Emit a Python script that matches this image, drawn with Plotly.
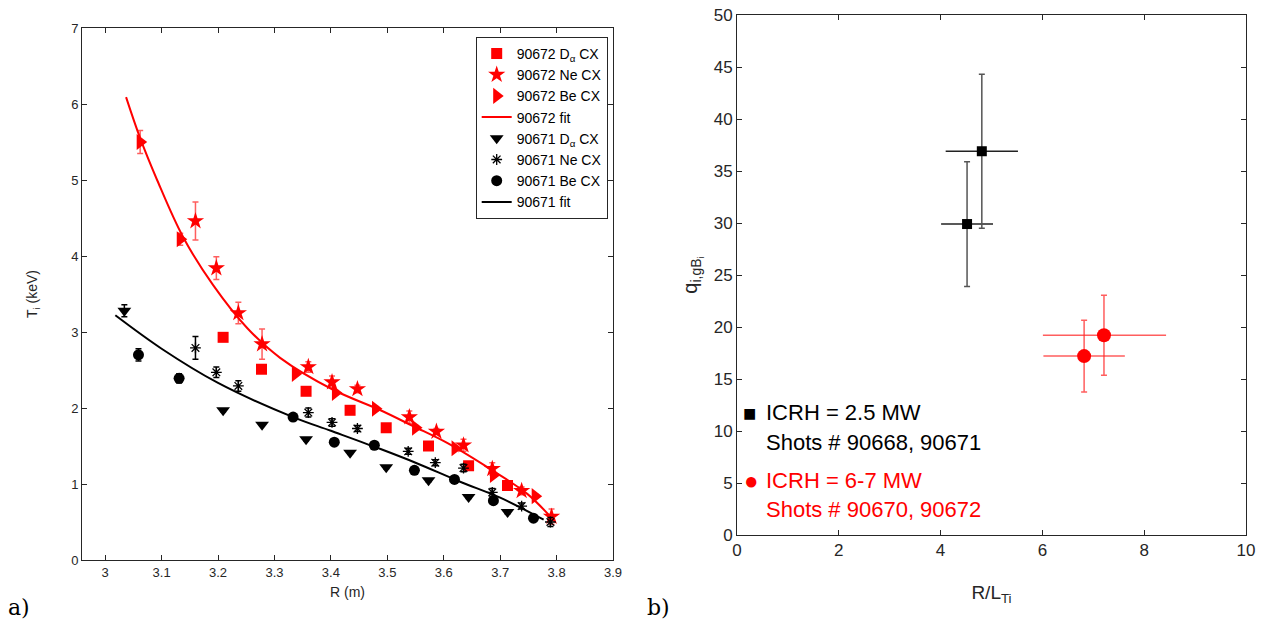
import plotly.graph_objects as go

# ---------------- Left panel data: Ti profiles ----------------
r672_da = [3.209, 3.277, 3.356, 3.434, 3.498, 3.573, 3.644, 3.713]
t672_da = [2.93, 2.51, 2.22, 1.97, 1.74, 1.50, 1.24, 0.98]
e672_da = [0.03, 0.03, 0.03, 0.03, 0.03, 0.03, 0.03, 0.03]

r672_ne = [3.160, 3.197, 3.236, 3.278, 3.360, 3.402, 3.447, 3.539, 3.587, 3.635, 3.686, 3.738, 3.791]
t672_ne = [4.46, 3.84, 3.25, 2.84, 2.54, 2.34, 2.25, 1.88, 1.69, 1.51, 1.20, 0.91, 0.57]
e672_ne = [0.25, 0.15, 0.14, 0.20, 0.07, 0.08, 0.05, 0.08, 0.04, 0.08, 0.08, 0.05, 0.10]

r672_be = [3.062, 3.133, 3.337, 3.408, 3.479, 3.550, 3.620, 3.688, 3.762]
t672_be = [5.50, 4.22, 2.45, 2.20, 1.99, 1.74, 1.47, 1.12, 0.84]
e672_be = [0.15, 0.08, 0.03, 0.03, 0.03, 0.03, 0.03, 0.03, 0.03]

r672_fit = [3.037, 3.062, 3.092, 3.138, 3.191, 3.252, 3.310, 3.404, 3.488, 3.546, 3.606,
            3.688, 3.748, 3.789]
t672_fit = [6.09, 5.55, 5.00, 4.25, 3.62, 3.05, 2.66, 2.24, 1.97, 1.76, 1.54,
            1.17, 0.87, 0.57]

r671_da = [3.034, 3.209, 3.278, 3.356, 3.434, 3.498, 3.573, 3.644, 3.713]
t671_da = [3.28, 1.97, 1.78, 1.59, 1.41, 1.22, 1.05, 0.83, 0.63]
e671_da = [0.08, 0.02, 0.02, 0.02, 0.02, 0.02, 0.02, 0.02, 0.02]

r671_ne = [3.160, 3.197, 3.236, 3.360, 3.402, 3.447, 3.537, 3.585, 3.635, 3.686, 3.738, 3.789]
t671_ne = [2.79, 2.47, 2.29, 1.94, 1.81, 1.73, 1.43, 1.28, 1.21, 0.89, 0.71, 0.50]
e671_ne = [0.15, 0.07, 0.07, 0.06, 0.05, 0.04, 0.04, 0.04, 0.05, 0.05, 0.04, 0.06]

r671_be = [3.059, 3.131, 3.333, 3.406, 3.477, 3.548, 3.619, 3.688, 3.759]
t671_be = [2.70, 2.39, 1.88, 1.55, 1.51, 1.18, 1.06, 0.78, 0.55]
e671_be = [0.08, 0.06, 0.03, 0.03, 0.03, 0.03, 0.03, 0.03, 0.03]

r671_fit = [3.018, 3.10, 3.20, 3.333, 3.40, 3.488, 3.55, 3.629, 3.70, 3.777]
t671_fit = [3.22, 2.78, 2.33, 1.88, 1.70, 1.46, 1.28, 1.03, 0.82, 0.53]

# ---------------- Right panel data: heat flux vs R/LTi ----------------
rlt_low = [4.52, 4.81]
rlt_low_err = [0.51, 0.71]
q_low = [29.9, 36.9]
q_low_err = [6.0, 7.4]

rlt_high = [6.82, 7.21]
rlt_high_err_plus = [0.80, 1.22]
rlt_high_err_minus = [0.80, 1.20]
q_high = [17.2, 19.2]
q_high_err = [3.45, 3.85]

RED = "#ff0000"
RED_ERR = "rgba(255,40,40,0.75)"
BLK = "#000000"
FONT = "Liberation Sans, Arial, sans-serif"

fig = go.Figure()

def pts(x, y, e, name, color, ecolor, symbol, size, lw=0):
    return go.Scatter(
        x=x, y=y, mode="markers", name=name,
        marker=dict(symbol=symbol, size=size, color=color,
                    line=dict(color=color, width=lw)),
        error_y=dict(type="data", array=e, visible=True, color=ecolor,
                     thickness=1.5, width=3),
        xaxis="x", yaxis="y",
    )

fig.add_trace(pts(r672_da, t672_da, e672_da, "90672 D<sub>α</sub> CX", RED, RED_ERR, "square", 11))
fig.add_trace(pts(r672_ne, t672_ne, e672_ne, "90672 Ne CX", RED, RED_ERR, "star", 13))
fig.add_trace(pts(r672_be, t672_be, e672_be, "90672 Be CX", RED, RED_ERR, "triangle-right", 14))
fig.add_trace(go.Scatter(x=r672_fit, y=t672_fit, mode="lines", name="90672 fit",
                         line=dict(color=RED, width=2, shape="spline", smoothing=1.0), xaxis="x", yaxis="y"))
fig.add_trace(pts(r671_da, t671_da, e671_da, "90671 D<sub>α</sub> CX", BLK, BLK, "triangle-down", 12))
fig.add_trace(pts(r671_ne, t671_ne, e671_ne, "90671 Ne CX", BLK, BLK, "asterisk-open", 9, lw=1.3))
fig.add_trace(pts(r671_be, t671_be, e671_be, "90671 Be CX", BLK, BLK, "circle", 11))
fig.add_trace(go.Scatter(x=r671_fit, y=t671_fit, mode="lines", name="90671 fit",
                         line=dict(color=BLK, width=2, shape="spline", smoothing=1.0), xaxis="x", yaxis="y"))

# right panel
fig.add_trace(go.Scatter(
    x=rlt_low, y=q_low, mode="markers", showlegend=False,
    marker=dict(symbol="square", size=10, color=BLK),
    error_y=dict(type="data", array=q_low_err, color="#555555", thickness=1.5, width=3),
    error_x=dict(type="data", array=rlt_low_err, color="#222222", thickness=1.5, width=0),
    xaxis="x2", yaxis="y2"))
fig.add_trace(go.Scatter(
    x=rlt_high, y=q_high, mode="markers", showlegend=False,
    marker=dict(symbol="circle", size=14, color=RED),
    error_y=dict(type="data", array=q_high_err, color=RED_ERR, thickness=1.5, width=3),
    error_x=dict(type="data", array=rlt_high_err_plus, arrayminus=rlt_high_err_minus,
                 color=RED_ERR, thickness=1.5, width=0),
    xaxis="x2", yaxis="y2"))

axis_common = dict(showline=True, linecolor="#262626", linewidth=1, mirror="ticks",
                   ticks="inside", ticklen=5, tickcolor="#262626", showgrid=False,
                   zeroline=False, automargin=False)

fig.update_layout(
    template="none",
    width=1274, height=625,
    margin=dict(l=0, r=0, t=0, b=0, autoexpand=False),
    paper_bgcolor="white", plot_bgcolor="white",
    font=dict(family=FONT, color="#262626"),
    xaxis=dict(domain=[0.0644, 0.4812], range=[2.959, 3.9], tickvals=[3, 3.1, 3.2, 3.3, 3.4, 3.5, 3.6, 3.7, 3.8, 3.9],
               ticktext=["3", "3.1", "3.2", "3.3", "3.4", "3.5", "3.6", "3.7", "3.8", "3.9"],
               tickfont=dict(size=13), anchor="y",
               title=dict(text="R (m)", font=dict(size=14), standoff=8), **axis_common),
    yaxis=dict(domain=[0.104, 0.9552], range=[0, 7], dtick=1, tickfont=dict(size=13), anchor="x",
               title=dict(text="T<sub>i</sub> (keV)", font=dict(size=14), standoff=30), **axis_common),
    xaxis2=dict(domain=[0.5785, 0.978], range=[0, 10], dtick=2, tickfont=dict(size=17), anchor="y2",
                title=dict(text="R/L<sub>Ti</sub>", font=dict(size=19), standoff=26), **axis_common),
    yaxis2=dict(domain=[0.144, 0.976], range=[0, 50], dtick=5, tickfont=dict(size=17), anchor="x2",
                title=dict(text="q<sub>i,gB<sub>i</sub></sub>", font=dict(size=20), standoff=10), **axis_common),
    legend=dict(x=0.477, y=0.941, xanchor="right", yanchor="top",
                bgcolor="white", bordercolor="#262626", borderwidth=1,
                font=dict(size=14, color="#000000"), tracegroupgap=0, itemwidth=30),
    annotations=[
        dict(text="a)", x=0.005, y=0.005, xref="paper", yref="paper", xanchor="left", yanchor="bottom",
             showarrow=False, font=dict(family="DejaVu Serif, Liberation Serif, serif", size=22, color="#000")),
        dict(text="b)", x=0.506, y=0.005, xref="paper", yref="paper", xanchor="left", yanchor="bottom",
             showarrow=False, font=dict(family="DejaVu Serif, Liberation Serif, serif", size=22, color="#000")),
        dict(text="■", x=0.5885, y=(625 - 413) / 625, xref="paper", yref="paper", xanchor="center", yanchor="middle",
             showarrow=False, font=dict(size=22, color="#000")),
        dict(text="ICRH = 2.5 MW", x=0.6, y=(625 - 412) / 625, xref="paper", yref="paper", xanchor="left", yanchor="middle",
             showarrow=False, font=dict(size=22, color="#000")),
        dict(text="Shots # 90668, 90671", x=0.6, y=(625 - 442) / 625, xref="paper", yref="paper", xanchor="left", yanchor="middle",
             showarrow=False, font=dict(size=22, color="#000")),
        dict(text="●", x=0.5895, y=(625 - 480) / 625, xref="paper", yref="paper", xanchor="center", yanchor="middle",
             showarrow=False, font=dict(size=24, color=RED)),
        dict(text="ICRH = 6-7 MW", x=0.6, y=(625 - 480) / 625, xref="paper", yref="paper", xanchor="left", yanchor="middle",
             showarrow=False, font=dict(size=22, color=RED)),
        dict(text="Shots # 90670, 90672", x=0.6, y=(625 - 509) / 625, xref="paper", yref="paper", xanchor="left", yanchor="middle",
             showarrow=False, font=dict(size=22, color=RED)),
    ],
)

fig.write_html("out.html")
